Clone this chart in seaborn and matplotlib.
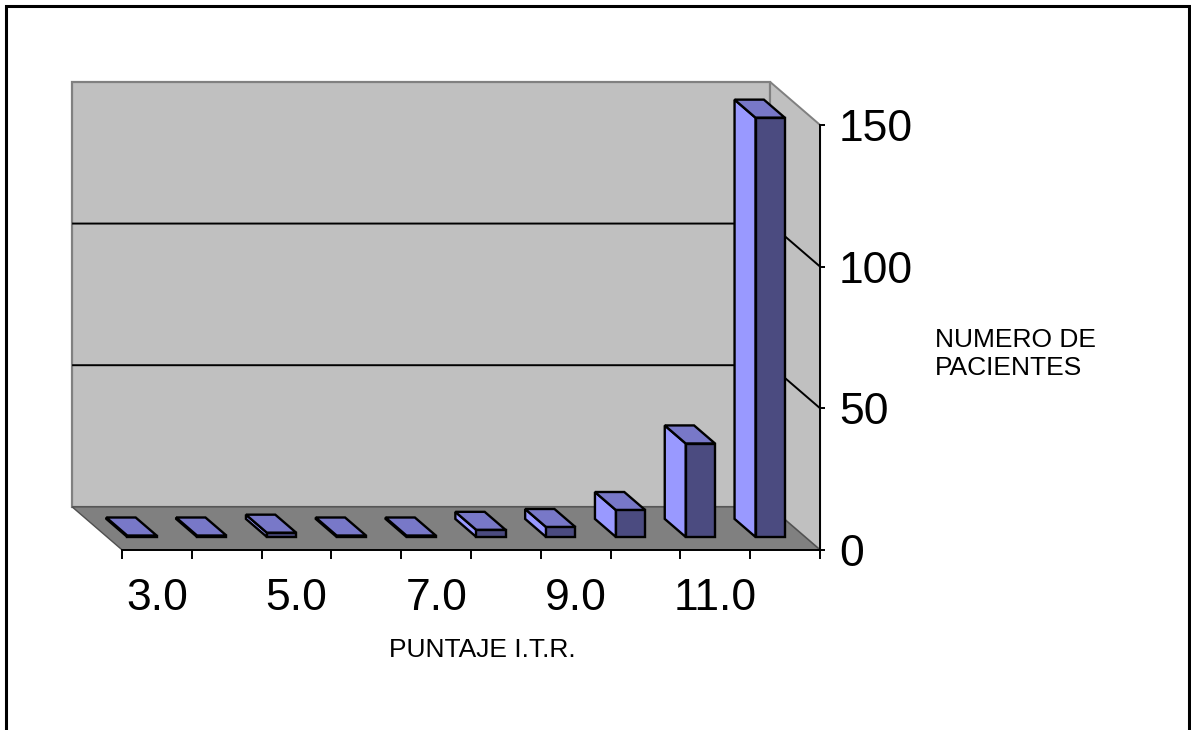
import matplotlib
matplotlib.use("Agg")
import matplotlib.pyplot as plt
from matplotlib.patches import Polygon, Rectangle
import seaborn as sns
import pandas as pd

# Data: patients by I.T.R. score
scores = ["3.0", "4.0", "5.0", "6.0", "7.0", "8.0", "9.0", "10.0", "11.0", "12.0"]
patients = [0.5, 0.5, 1.5, 0.5, 0.5, 2.5, 3.5, 9.5, 33, 148]
y_ticks = [0, 50, 100, 150]
shown_labels = ["3.0", "", "5.0", "", "7.0", "", "9.0", "", "11.0", ""]

sns.set_theme(style="white")
plt.rcParams["font.family"] = ["Liberation Sans", "DejaVu Sans"]

W, H, DPI = 1191, 730, 100
fig = plt.figure(figsize=(W / DPI, H / DPI), dpi=DPI)
fig.patch.set_facecolor("white")

# axes placed so one category = 69.8 px and one unit = 2.833 px
left_px, right_px, top_px, bottom_px = 40, 1150, 40, 700
ax = fig.add_axes([left_px / W, (H - bottom_px) / H,
                   (right_px - left_px) / W, (bottom_px - top_px) / H])
ax.set_facecolor("none")

# oblique projection: z = 0 front of floor, z = 1 back wall; bars at z in [0.30, 0.72]
DX, DY = 0.716, 15.2      # full depth offset in data units (left, up)
Z_FRONT, Z_BACK = 0.30, 0.72
YMAX = 150
EDGE_LW = 1.7


def proj(x, y, z):
    return (x - (z - Z_FRONT) * DX, y + (z - Z_FRONT) * DY)


n = len(scores)
x_lo, x_hi = -0.5, n - 0.5

# back wall
wall = [proj(x_lo, 0, 1), proj(x_hi, 0, 1), proj(x_hi, YMAX, 1), proj(x_lo, YMAX, 1)]
ax.add_patch(Polygon(wall, closed=True, facecolor="#C0C0C0", edgecolor="#808080",
                     lw=1.6, zorder=1))
# right side wall
side = [proj(x_hi, 0, 1), proj(x_hi, YMAX, 1), proj(x_hi, YMAX, 0), proj(x_hi, 0, 0)]
ax.add_patch(Polygon(side, closed=True, facecolor="#C0C0C0", edgecolor="#808080",
                     lw=1.4, zorder=1))
# floor
floor = [proj(x_lo, 0, 0), proj(x_hi, 0, 0), proj(x_hi, 0, 1), proj(x_lo, 0, 1)]
ax.add_patch(Polygon(floor, closed=True, facecolor="#808080", edgecolor="#505050",
                     lw=1.0, zorder=1.2))

# gridlines on the back and side walls
for v in y_ticks[1:-1]:
    pts = [proj(x_lo, v, 1), proj(x_hi, v, 1), proj(x_hi, v, 0)]
    ax.plot([p[0] for p in pts], [p[1] for p in pts], color="black", lw=1.4,
            zorder=1.5, solid_capstyle="butt")

# front faces of the bars
df = pd.DataFrame({"score": scores, "patients": patients})
bar_w = 0.42
sns.barplot(data=df, x="score", y="patients", color="#4B4B80", saturation=1,
            width=bar_w, edgecolor="black", linewidth=EDGE_LW, ax=ax, zorder=3)

# side and top faces derived from each bar
for p in ax.patches:
    if not isinstance(p, Rectangle) or p.get_width() > 1:
        continue
    x0, w, h = p.get_x(), p.get_width(), p.get_height()
    ox, oy = -(Z_BACK - Z_FRONT) * DX, (Z_BACK - Z_FRONT) * DY
    left_face = [(x0, 0), (x0, h), (x0 + ox, h + oy), (x0 + ox, oy)]
    top_face = [(x0, h), (x0 + w, h), (x0 + w + ox, h + oy), (x0 + ox, h + oy)]
    ax.add_patch(Polygon(left_face, closed=True, facecolor="#9999FF",
                         edgecolor="black", lw=EDGE_LW, joinstyle="miter", zorder=2.8))
    ax.add_patch(Polygon(top_face, closed=True, facecolor="#7878C8",
                         edgecolor="black", lw=EDGE_LW, joinstyle="miter", zorder=2.8))

ax.set_xlim((left_px - 142) / 69.8, (right_px - 142) / 69.8)
ax.set_ylim((537 - bottom_px) / 2.833, (537 - top_px) / 2.833)

# axes lines
for s in ["left", "top"]:
    ax.spines[s].set_visible(False)
front_shift_x, y0_front = proj(0, 0, 0)
ax.spines["right"].set_visible(True)
ax.spines["right"].set_position(("data", x_hi + front_shift_x))
ax.spines["right"].set_bounds(y0_front, YMAX + y0_front)
ax.spines["right"].set_color("black")
ax.spines["right"].set_linewidth(1.4)
ax.spines["bottom"].set_visible(True)
ax.spines["bottom"].set_position(("data", y0_front))
ax.spines["bottom"].set_bounds(x_lo + front_shift_x, x_hi + front_shift_x)
ax.spines["bottom"].set_color("black")
ax.spines["bottom"].set_linewidth(1.4)

ax.yaxis.tick_right()
ax.set_yticks([v + y0_front for v in y_ticks], [str(v) for v in y_ticks])
ax.tick_params(axis="y", direction="inout", length=7, width=1.4, color="black",
               labelsize=32, labelcolor="black", pad=10, right=True, left=False)

ax.set_xticks([i - 0.5 + front_shift_x for i in range(n + 1)], [""] * (n + 1))
ax.set_xticks([i + front_shift_x for i in range(n)], shown_labels, minor=True)
ax.tick_params(axis="x", which="major", direction="out", length=6.5, width=1.4,
               color="black", bottom=True)
ax.tick_params(axis="x", which="minor", length=0, labelsize=32,
               labelcolor="black", pad=20)
ax.set_xlabel("")
ax.set_ylabel("")

fig.text(389 / W, 1 - 657 / H, "PUNTAJE I.T.R.", fontsize=19, ha="left",
         va="baseline", color="black")
fig.text(935 / W, 1 - 354 / H, "NUMERO DE\nPACIENTES", fontsize=19, ha="left",
         va="center", linespacing=1.2, color="black")

# outer frame
fig.patches.append(Rectangle((5.5 / W, -0.05), (1188.5 - 5.5) / W, 1.05 - 6 / H,
                             transform=fig.transFigure, fill=False,
                             edgecolor="black", lw=2.2))

fig.savefig("out.png", dpi=DPI)
